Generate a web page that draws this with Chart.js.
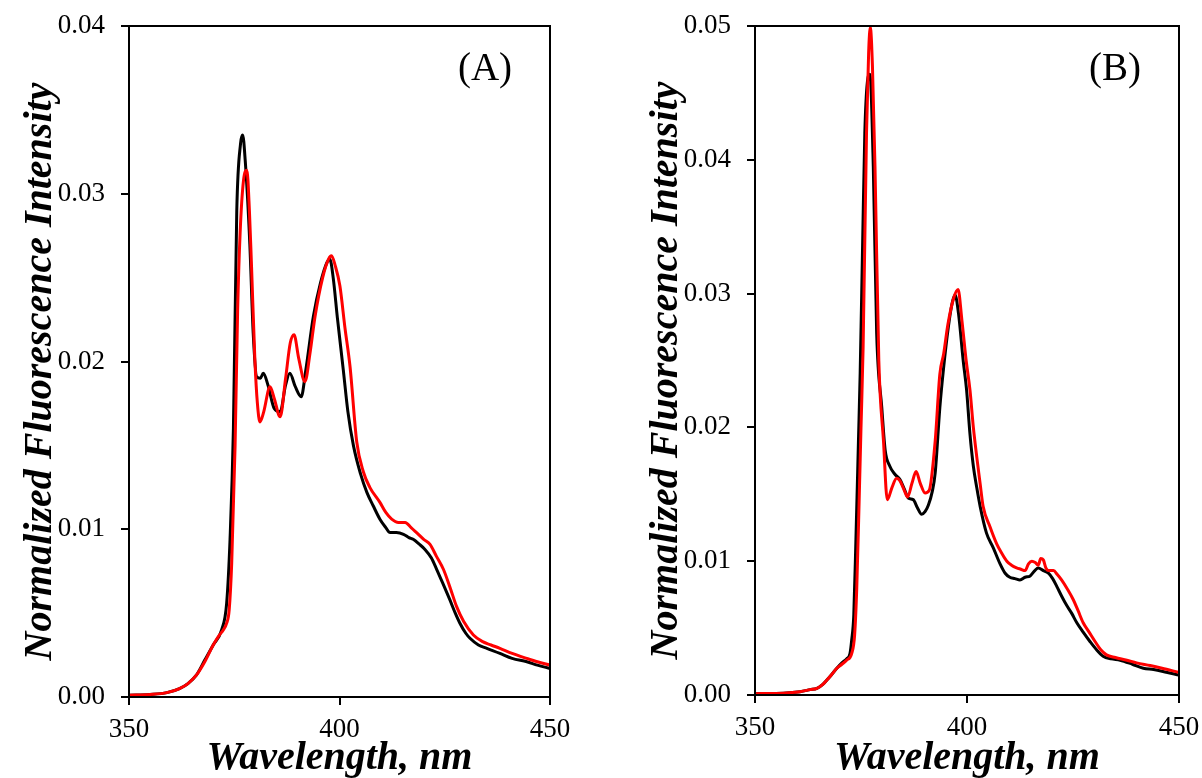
<!DOCTYPE html>
<html>
<head>
<meta charset="utf-8">
<script src="https://cdn.jsdelivr.net/npm/chart.js@4.4.1/dist/chart.umd.min.js"></script>
<style>
  html, body { margin: 0; padding: 0; background: #fff; }
  body { width: 1202px; height: 778px; position: relative; overflow: hidden; }
  canvas { position: absolute; top: 0; }
  #cA { left: 0px; }
  #cB { left: 626px; }
</style>
</head>
<body>
<canvas id="cA" width="600" height="778"></canvas>
<canvas id="cB" width="576" height="778"></canvas>
<script>
// ---------- Data (wavelength in nm, normalized intensity) ----------
const aBlackX = [350,355,359,362,364,366,368,370,372,373.2,374,374.8,375.6,376.5,377.0,377.6,378.7,379.5,380.3,381.2,381.9,383,384.5,385.9,387.2,388.2,389.5,390.9,392,393.8,395.5,397.0,397.7,398.5,399.5,400.9,402,403.3,405,406.5,408,409.6,411,412,413.5,415.2,416.5,417.5,419,420.3,421.8,423.1,424.5,426.2,427.5,428.6,430,431,433,435,438.1,441,444.5,447,450];
const aBlackY = [0.0001,0.00015,0.00026,0.0005,0.0008,0.0013,0.0022,0.0031,0.0040,0.0056,0.0094,0.0160,0.0290,0.0330,0.0335,0.0320,0.0270,0.0217,0.0191,0.0190,0.0193,0.0186,0.0172,0.0170,0.0186,0.0193,0.0185,0.0179,0.0195,0.0227,0.0247,0.0259,0.0261,0.0250,0.0226,0.0195,0.0170,0.0150,0.0133,0.0122,0.0114,0.0106,0.0101,0.0098,0.0098,0.0097,0.0095,0.0094,0.0091,0.0088,0.0083,0.0076,0.0068,0.0058,0.0050,0.0044,0.0038,0.0035,0.0031,0.0029,0.0026,0.0023,0.0021,0.0019,0.0017];

const aRedX = [350,355,359,362,364,366,368,370,371.5,372.4,373.2,373.8,374.4,375.2,375.8,376.4,377.2,378.0,378.6,379.1,379.9,380.5,381.1,382,383.5,384.5,385.9,387.2,388.3,389.2,390.3,391.8,393,394.2,396,397.4,398.1,399,400.1,401.3,402.5,404.1,405.7,407.2,409.6,411,412.4,414,415.6,417,418.3,420,421.5,423,424.7,426.3,427.8,429.5,431.8,434,436,438.1,441,444.5,447,450];
const aRedY = [0.0001,0.00015,0.00026,0.0005,0.0008,0.0013,0.0021,0.0031,0.0037,0.0040,0.0044,0.0052,0.0080,0.0150,0.0230,0.0277,0.0308,0.0314,0.0290,0.0257,0.0201,0.0175,0.0164,0.0170,0.0185,0.0178,0.0167,0.0190,0.0211,0.0216,0.0202,0.0188,0.0205,0.0227,0.0250,0.0261,0.0263,0.0257,0.0245,0.0220,0.0197,0.0152,0.0134,0.0125,0.0116,0.0110,0.0106,0.0104,0.0104,0.0101,0.0098,0.0094,0.0091,0.0084,0.0076,0.0065,0.0054,0.0045,0.0037,0.0033,0.0031,0.0029,0.0026,0.0023,0.0021,0.0019];

const bBlackX = [350,355,360.6,363,364.6,366,366.9,368,369.3,370.5,371.6,372.4,372.8,373.3,373.8,374.4,374.8,375.4,375.9,376.5,377.1,377.9,378.7,379.9,380.7,381.8,383,384.2,385.2,386.2,387.3,388.3,389.3,390.1,390.9,391.8,392.5,393.6,394.5,395.6,396.5,397.2,398.0,399.1,399.9,400.7,401.5,402.3,403.1,404.6,406.2,407.8,409,410.1,411.3,412.5,413.7,414.9,416,416.8,418,419.2,420.2,421.2,422.3,423.5,424.7,425.9,427.4,429.0,430.5,432.1,434,436.1,439,441.6,444,447,449.8];
const bBlackY = [0.0001,0.00012,0.00025,0.0004,0.0005,0.0008,0.0011,0.0015,0.0020,0.0024,0.0027,0.0031,0.0041,0.0060,0.0116,0.0190,0.0240,0.0340,0.0420,0.0458,0.0464,0.0395,0.0270,0.0215,0.0183,0.0171,0.0165,0.0161,0.0154,0.0147,0.0146,0.0140,0.0135,0.0137,0.0142,0.0152,0.0166,0.0215,0.0245,0.0275,0.0293,0.0299,0.0285,0.0250,0.0228,0.0195,0.0171,0.0155,0.0141,0.0121,0.0110,0.0098,0.0091,0.0088,0.0087,0.0086,0.0088,0.0089,0.0093,0.0095,0.0093,0.0091,0.0087,0.0081,0.0074,0.0067,0.0061,0.0054,0.0047,0.0040,0.0034,0.0029,0.0027,0.0026,0.0023,0.0020,0.0019,0.0017,0.0015];

const bRedX = [350,355,360.6,363,364.6,366,366.9,368,369.3,370.5,371.6,372.8,373.5,374.0,374.6,375.0,375.5,376.3,376.8,377.2,377.7,378.3,379.2,380.3,381.2,382.3,383.4,384.2,385.2,386.0,387.0,388.0,389.0,390.1,391.1,392.5,393.6,394.5,395.5,396.8,397.9,398.8,399.8,400.7,401.5,402.3,403.1,403.8,405.4,407.0,408.2,409.4,410.5,411.7,412.7,413.7,414.5,415.3,416.1,416.8,417.4,418.0,418.6,419.2,420.4,421.3,422.3,423.7,425.1,426.2,427.4,428.8,430.2,431.5,432.9,435,437.7,440,443.2,446,449.8];
const bRedY = [0.0001,0.00012,0.00025,0.0004,0.0005,0.0008,0.0011,0.0015,0.0020,0.0023,0.0026,0.0031,0.0045,0.0080,0.0150,0.0200,0.0260,0.0420,0.0480,0.0499,0.0470,0.0395,0.0250,0.0190,0.0146,0.0155,0.0162,0.0160,0.0153,0.0148,0.0158,0.0167,0.0158,0.0151,0.0153,0.0190,0.0240,0.0255,0.0277,0.0296,0.0303,0.0280,0.0250,0.0228,0.0200,0.0178,0.0158,0.0141,0.0126,0.0113,0.0106,0.0100,0.0097,0.0095,0.0094,0.0093,0.0098,0.0100,0.0099,0.0097,0.0102,0.0101,0.0095,0.0093,0.0093,0.0090,0.0086,0.0079,0.0071,0.0063,0.0054,0.0047,0.0040,0.0034,0.0030,0.0028,0.0026,0.0024,0.0022,0.0020,0.0017];

const xTicks = [350, 400, 450];
const yTicksA = [0, 0.01, 0.02, 0.03, 0.04];
const yTicksB = [0, 0.01, 0.02, 0.03, 0.04, 0.05];
const xTitle = 'Wavelength, nm';
const yTitle = 'Normalized Fluorescence Intensity';
const panelLabels = ['(A)', '(B)'];

// ---------- helpers ----------
function pts(xs, ys) { return xs.map((x, i) => ({ x: x, y: ys[i] })); }

const framePlugin = {
  id: 'frame',
  afterDraw(chart, args, opts) {
    const { ctx, chartArea: a } = chart;
    ctx.save();
    ctx.strokeStyle = '#000';
    ctx.lineWidth = 2;
    ctx.strokeRect(a.left, a.top, a.right - a.left, a.bottom - a.top);
    ctx.fillStyle = '#000';
    ctx.font = '39px "Liberation Serif", "Times New Roman", serif';
    ctx.textAlign = 'center';
    ctx.textBaseline = 'alphabetic';
    ctx.fillText(opts.label, a.right - opts.dx, a.top + 54);
    ctx.restore();
  }
};

function makeChart(id, black, red, yTicks, yMax, xHeight, padRight, label, dx) {
  const serif = '"Liberation Serif", "Times New Roman", serif';
  return new Chart(document.getElementById(id), {
    type: 'line',
    data: {
      datasets: [
        { label: 'red', data: red, borderColor: '#ff0000', borderWidth: 3, pointRadius: 0, cubicInterpolationMode: 'monotone', order: 0 },
        { label: 'black', data: black, borderColor: '#000000', borderWidth: 3, pointRadius: 0, cubicInterpolationMode: 'monotone', order: 1 }
      ]
    },
    options: {
      responsive: false,
      animation: false,
      devicePixelRatio: 1,
      layout: { padding: { top: 26, right: padRight, left: 0, bottom: 0 } },
      plugins: { legend: { display: false }, tooltip: { enabled: false }, frame: { label: label, dx: dx } },
      scales: {
        x: {
          type: 'linear', min: xTicks[0], max: xTicks[xTicks.length - 1],
          afterBuildTicks(s) { s.ticks = xTicks.map(v => ({ value: v })); },
          afterFit(s) { s.height = xHeight; s.paddingLeft = 0; s.paddingRight = 0; },
          grid: { display: true, drawOnChartArea: false, drawTicks: true, tickLength: 8, color: '#000', lineWidth: 2 },
          border: { display: true, color: '#000', width: 2 },
          ticks: { color: '#000', padding: 9, maxRotation: 0, font: { family: serif, size: 27 }, callback: v => String(v) },
          title: { display: true, text: xTitle, color: '#000', padding: { top: 0, bottom: 1 },
                   font: { family: serif, size: 40, weight: 'bold', style: 'italic', lineHeight: 0.9 } }
        },
        y: {
          type: 'linear', min: 0, max: yMax,
          afterBuildTicks(s) { s.ticks = yTicks.map(v => ({ value: v })); },
          afterFit(s) { s.width = 129; s.paddingTop = 0; s.paddingBottom = 0; },
          grid: { display: true, drawOnChartArea: false, drawTicks: true, tickLength: 8, color: '#000', lineWidth: 2 },
          border: { display: true, color: '#000', width: 2 },
          ticks: { color: '#000', padding: 16, font: { family: serif, size: 27 }, callback: v => Number(v).toFixed(2) },
          title: { display: true, text: yTitle + '\u00a0\u00a0', color: '#000', padding: { top: 17, bottom: 0 },
                   font: { family: serif, size: 40, weight: 'bold', style: 'italic', lineHeight: 1.2 } }
        }
      }
    },
    plugins: [framePlugin]
  });
}

makeChart('cA', pts(aBlackX, aBlackY), pts(aRedX, aRedY), yTicksA, 0.04, 81, 50, panelLabels[0], 65);
makeChart('cB', pts(bBlackX, bBlackY), pts(bRedX, bRedY), yTicksB, 0.05, 83, 23, panelLabels[1], 64);
</script>
</body>
</html>
